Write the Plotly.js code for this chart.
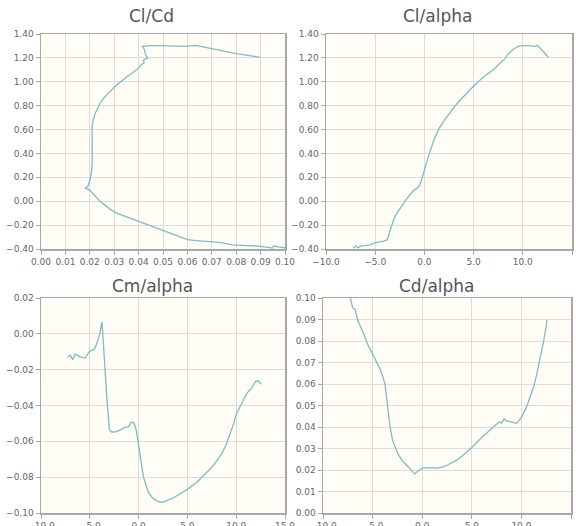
<!DOCTYPE html>
<html>
<head>
<meta charset="utf-8">
<script src="https://cdn.plot.ly/plotly-3.0.1.min.js"></script>
<style>html,body{margin:0;padding:0;background:#fff;}#chart{width:576px;height:526px;}</style>
</head>
<body>
<div id="chart"></div>
<script>
// angle of attack (deg)
var alpha = [-7.25,-7.0,-6.75,-6.5,-6.0,-5.5,-5.0,-4.5,-4.25,-4.0,-3.75,-3.5,-3.25,-3.0,-2.75,-2.5,-2.0,-1.5,-1.0,-0.75,-0.5,-0.25,0,0.25,0.5,1.0,1.5,2.0,2.5,3.0,3.5,4.0,5.0,6.0,7.0,7.5,7.75,8.0,8.25,8.5,9.0,9.5,9.75,10.0,10.5,11.0,11.25,11.5,12.0,12.25,12.6];
// lift coefficient
var cl = [-0.392,-0.375,-0.392,-0.376,-0.372,-0.365,-0.347,-0.342,-0.336,-0.330,-0.322,-0.245,-0.178,-0.127,-0.095,-0.062,-0.003,0.052,0.097,0.108,0.130,0.190,0.265,0.330,0.400,0.520,0.610,0.675,0.735,0.785,0.835,0.880,0.965,1.040,1.100,1.140,1.160,1.180,1.200,1.230,1.270,1.295,1.300,1.302,1.303,1.298,1.296,1.305,1.260,1.235,1.205];
// drag coefficient
var cd = [0.1002,0.0953,0.0948,0.0895,0.0845,0.0785,0.0740,0.0695,0.0670,0.0638,0.0600,0.0500,0.0405,0.0340,0.0305,0.0280,0.0243,0.0218,0.0198,0.0182,0.0193,0.0202,0.0208,0.0210,0.0211,0.0210,0.0209,0.0213,0.0222,0.0234,0.0246,0.0264,0.0305,0.0351,0.0392,0.0410,0.0423,0.0419,0.0437,0.0428,0.0424,0.0416,0.0432,0.0445,0.0490,0.0552,0.0590,0.0635,0.0735,0.0800,0.0899];
// pitching moment coefficient
var cm = [-0.0131,-0.0120,-0.0145,-0.0113,-0.0128,-0.0135,-0.0098,-0.0085,-0.0048,-0.0005,0.0066,-0.0160,-0.0360,-0.0535,-0.0548,-0.0548,-0.0540,-0.0525,-0.0518,-0.0495,-0.0495,-0.0535,-0.0620,-0.0728,-0.0800,-0.0885,-0.0920,-0.0937,-0.0940,-0.0928,-0.0917,-0.0901,-0.0868,-0.0827,-0.0776,-0.0745,-0.0728,-0.0710,-0.0690,-0.0670,-0.0615,-0.0545,-0.0500,-0.0450,-0.0390,-0.0340,-0.0321,-0.0308,-0.0265,-0.0262,-0.0282];

var titles = ["Cl/Cd","Cl/alpha","Cm/alpha","Cd/alpha"];

var lineStyle = {color:'#7dbdc3', width:1.3};
var traces = [
  {x:cd, y:cl, xaxis:'x', yaxis:'y', mode:'lines', line:lineStyle, cliponaxis:true},
  {x:alpha, y:cl, xaxis:'x2', yaxis:'y2', mode:'lines', line:lineStyle},
  {x:alpha, y:cm, xaxis:'x3', yaxis:'y3', mode:'lines', line:lineStyle},
  {x:alpha, y:cd, xaxis:'x4', yaxis:'y4', mode:'lines', line:lineStyle}
];

function ax(domain, range, dtick, fmt, anchor){
  return {domain:domain, range:range, dtick:dtick, tick0:range[0], tickformat:fmt, anchor:anchor,
    showgrid:true, gridcolor:'#dcdcdc', gridwidth:1, zeroline:false,
    showline:true, linecolor:'#a8a8a8', linewidth:1.5, mirror:true,
    ticks:'outside', ticklen:4, tickcolor:'#a8a8a8',
    tickfont:{family:'DejaVu Sans', size:9, color:'#666'}, fixedrange:true};
}
var W=576,H=526;
var xd1=[41/W,285/W], xd2=[326/W,572/W], xd4=[323/W,571/W];
var yTop=[1-249/H,1-34/H], yBot=[1-513/H,1-298/H];

var layout = {
  width:W, height:H, margin:{l:0,r:0,t:0,b:0},
  paper_bgcolor:'#ffffff', plot_bgcolor:'#fffdf5',
  showlegend:false,
  xaxis: ax(xd1,[0,0.1],0.01,'.2f','y'),
  yaxis: ax(yTop,[-0.4,1.4],0.2,'.2f','x'),
  xaxis2: ax(xd2,[-10,15],5,'.1f','y2'),
  yaxis2: ax(yTop,[-0.4,1.4],0.2,'.2f','x2'),
  xaxis3: ax(xd1,[-10,15],5,'.1f','y3'),
  yaxis3: ax(yBot,[-0.1,0.02],0.02,'.2f','x3'),
  xaxis4: ax(xd4,[-10,15],5,'.1f','y4'),
  yaxis4: ax(yBot,[0,0.1],0.01,'.2f','x4'),
  annotations: [
    {text:titles[0], x:151/W, y:1-16/H},
    {text:titles[1], x:437/W, y:1-16/H},
    {text:titles[2], x:152/W, y:1-286/H},
    {text:titles[3], x:437/W, y:1-286/H}
  ].map(function(a){ return Object.assign({xref:'paper', yref:'paper', showarrow:false, xanchor:'center', yanchor:'middle',
     font:{family:'DejaVu Sans', size:17, color:'#555'}}, a); })
};

Plotly.newPlot('chart', traces, layout, {displayModeBar:false, staticPlot:true});
</script>
</body>
</html>
